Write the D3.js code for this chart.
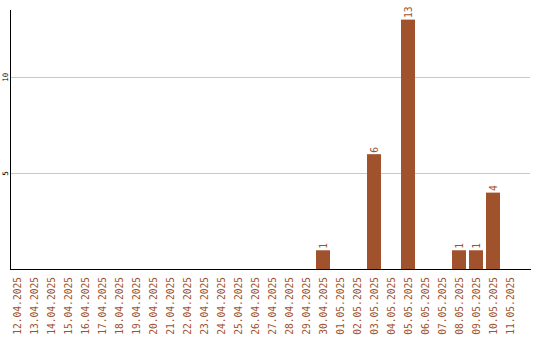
<!DOCTYPE html>
<html><head><meta charset="utf-8">
<script src="https://cdn.jsdelivr.net/npm/d3@7"></script>
<style>body{margin:0;background:#fff}svg{display:block}</style>
</head><body>
<svg id="c" width="540" height="340"></svg>
<script>
const dates = ["12.04.2025","13.04.2025","14.04.2025","15.04.2025","16.04.2025","17.04.2025","18.04.2025","19.04.2025","20.04.2025","21.04.2025","22.04.2025","23.04.2025","24.04.2025","25.04.2025","26.04.2025","27.04.2025","28.04.2025","29.04.2025","30.04.2025","01.05.2025","02.05.2025","03.05.2025","04.05.2025","05.05.2025","06.05.2025","07.05.2025","08.05.2025","09.05.2025","10.05.2025","11.05.2025"];
const values = [0,0,0,0,0,0,0,0,0,0,0,0,0,0,0,0,0,0,1,0,0,6,0,13,0,0,1,1,4,0];
const yTicks = [5,10];

const svg = d3.select("#c");
const color = "#a0522d";
const x = d3.scaleBand().domain(dates).range([8.5,518.5]).paddingInner(3/17).paddingOuter(1.5/17);
const y = d3.scaleLinear().domain([0,13.5]).range([269.5,10]);

// gridlines
svg.selectAll("line.grid").data(yTicks).join("line")
  .attr("x1",11).attr("x2",530).attr("y1",d=>Math.round(y(d))+0.5).attr("y2",d=>Math.round(y(d))+0.5)
  .attr("stroke","#c8c8c8").attr("stroke-width",1);

// y tick labels
svg.selectAll("text.yt").data(yTicks).join("text")
  .attr("transform",d=>`translate(8,${y(d)}) rotate(-90)`)
  .attr("text-anchor","middle").attr("font-family","DejaVu Sans Mono").attr("font-size",7.5)
  .attr("fill","#000").text(d=>d);

const data = dates.map((d,i)=>({d,v:values[i]}));
svg.selectAll("rect.bar").data(data.filter(e=>e.v>0)).join("rect")
  .attr("x",e=>x(e.d)).attr("width",x.bandwidth())
  .attr("y",e=>y(e.v)).attr("height",e=>y(0)-y(e.v)).attr("fill",color);

svg.selectAll("text.val").data(data.filter(e=>e.v>0)).join("text")
  .attr("transform",e=>`translate(${x(e.d)+x.bandwidth()/2+3.5},${y(e.v)-1.5}) rotate(-90)`)
  .attr("text-anchor","start").attr("font-family","DejaVu Sans Mono").attr("font-size",9.6)
  .attr("fill",color).text(e=>e.v);

// axes lines
svg.append("line").attr("x1",10.5).attr("x2",10.5).attr("y1",10).attr("y2",270).attr("stroke","#000");
svg.append("line").attr("x1",10).attr("x2",531).attr("y1",269.5).attr("y2",269.5).attr("stroke","#000");

// x labels
svg.selectAll("text.xl").data(dates).join("text")
  .attr("transform",d=>`translate(${x(d)+x.bandwidth()/2+3.5},277) rotate(-90)`)
  .attr("text-anchor","end").attr("font-family","DejaVu Sans Mono").attr("font-size",9.6)
  .attr("fill",color).text(d=>d);
</script>
</body></html>
